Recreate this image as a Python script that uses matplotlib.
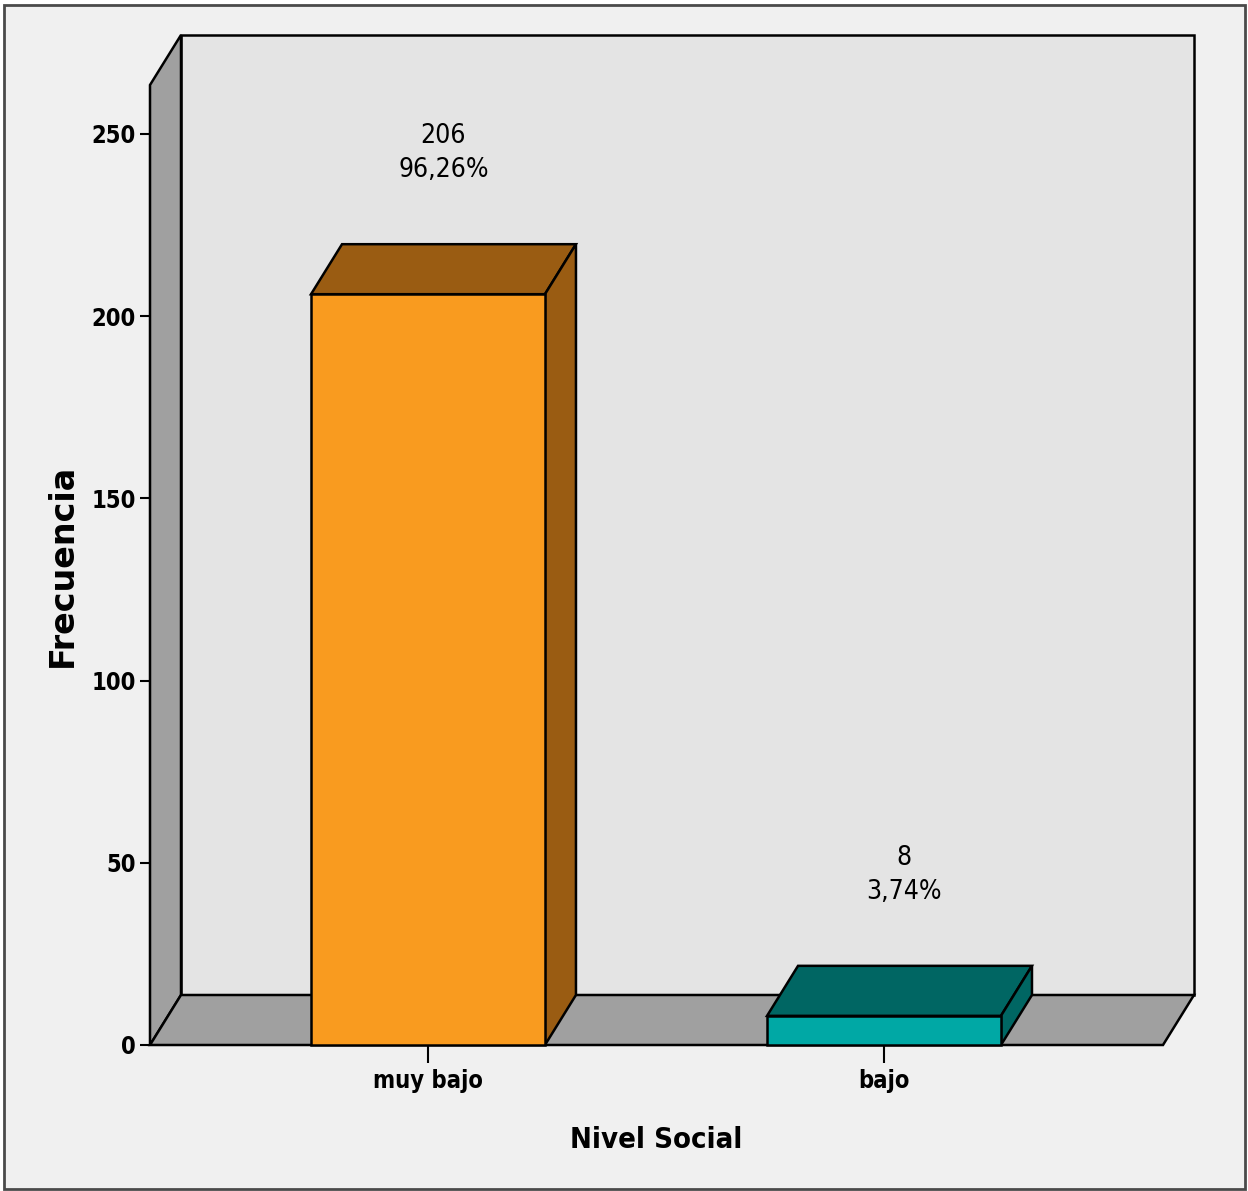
import matplotlib.pyplot as plt
from matplotlib.font_manager import FontProperties
from matplotlib.patches import Polygon, Rectangle

categorias = ['muy bajo', 'bajo']
frecuencias = [206, 8]
porcentajes = ['96,26%', '3,74%']
y_ticks = [0, 50, 100, 150, 200, 250]

colores_frente = ['#F99B1F', '#00A8A5']
colores_sombra = ['#9A5C12', '#006663']
gris_pared = '#A0A0A0'
fondo_pared = '#E4E4E4'

plt.rcParams['font.family'] = ['DejaVu Sans']
plt.rcParams['font.stretch'] = 'condensed'

fig = plt.figure(figsize=(12.48, 11.91), dpi=100)
fig.patch.set_facecolor('white')
fig.patches.append(Rectangle((0.0032, 0.0017), 0.9944, 0.9941, transform=fig.transFigure,
                             facecolor='#F0F0F0', edgecolor='#4a4a4a', lw=2, zorder=-10))

ax = fig.add_axes([150 / 1248, 146 / 1191, 1013 / 1248, 960 / 1191])
ax.set_facecolor('none')
x0, x1 = -0.6096, 1.6118
ytop = 263.4
ax.set_xlim(x0, x1)
ax.set_ylim(0, ytop)

# profundidad del efecto 3D (en unidades de datos)
dx = 31 / 456
dy = 50 / 3.644
lw = 1.8

# pared de fondo, pared izquierda y suelo
ax.add_patch(Polygon([(x0 + dx, dy), (x1 + dx, dy), (x1 + dx, ytop + dy), (x0 + dx, ytop + dy)],
                     facecolor=fondo_pared, edgecolor='black', lw=lw, clip_on=False, zorder=1))
ax.add_patch(Polygon([(x0, 0), (x0, ytop), (x0 + dx, ytop + dy), (x0 + dx, dy)],
                     facecolor=gris_pared, edgecolor='black', lw=lw, clip_on=False, zorder=2))
ax.add_patch(Polygon([(x0, 0), (x1, 0), (x1 + dx, dy), (x0 + dx, dy)],
                     facecolor=gris_pared, edgecolor='black', lw=lw, clip_on=False, zorder=2))

ancho = 0.513
for i, v in enumerate(frecuencias):
    a, b = i - ancho / 2, i + ancho / 2
    ax.add_patch(Polygon([(a, v), (b, v), (b + dx, v + dy), (a + dx, v + dy)],
                         facecolor=colores_sombra[i], edgecolor='black', lw=lw, clip_on=False, zorder=3))
    ax.add_patch(Polygon([(b, 0), (b, v), (b + dx, v + dy), (b + dx, dy)],
                         facecolor=colores_sombra[i], edgecolor='black', lw=lw, clip_on=False, zorder=3))
    ax.add_patch(Rectangle((a, 0), ancho, v, facecolor=colores_frente[i],
                           edgecolor='black', lw=lw, clip_on=False, zorder=4))
    ax.annotate(f'{v}\n{porcentajes[i]}', xy=(i + dx / 2 + 0.01 * i, v + dy), xytext=(0, 44),
                textcoords='offset points', ha='center', va='bottom', fontsize=19,
                linespacing=1.4, zorder=5)

for s in ax.spines.values():
    s.set_visible(False)

ax.set_yticks(y_ticks)
ax.set_yticklabels([str(t) for t in y_ticks], fontsize=17, fontweight='bold')
ax.set_xticks(range(len(categorias)))
ax.set_xticklabels(categorias, fontsize=17, fontweight='bold')
ax.tick_params(axis='y', length=7, width=1.5, pad=3)
ax.tick_params(axis='x', length=13, width=1.5, pad=4)

fp_y = FontProperties(family='DejaVu Sans', weight='bold', stretch='normal', size=24)
ax.set_ylabel('Frecuencia', fontproperties=fp_y, labelpad=9)
ax.set_xlabel('Nivel Social', fontsize=21, fontweight='bold', labelpad=24)

plt.savefig('out.png', dpi=100)
